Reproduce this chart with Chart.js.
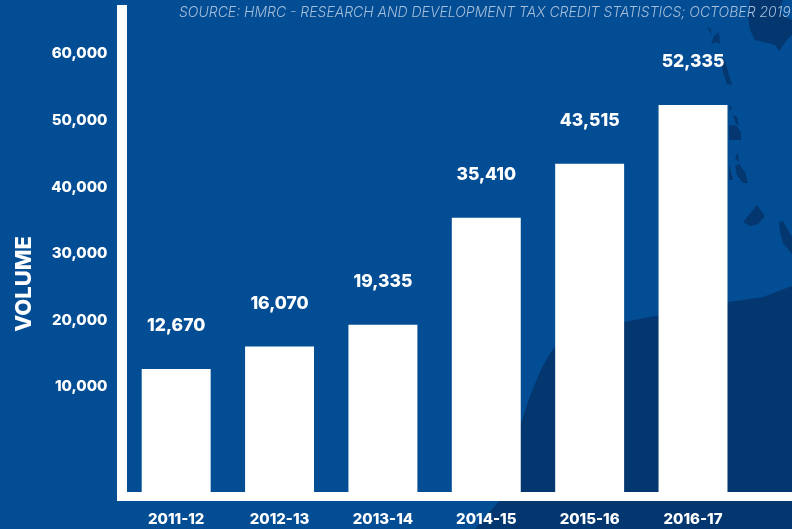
<!DOCTYPE html>
<html>
<head>
<meta charset="utf-8">
<title>R&amp;D tax credit claims</title>
<script src="https://cdn.jsdelivr.net/npm/chart.js@4/dist/chart.umd.min.js"></script>
<style>
    html, body { margin: 0; padding: 0; background: #034d94; overflow: hidden; }
    #wrap { position: relative; width: 792px; height: 529px; overflow: hidden; }
    #map { position: absolute; left: 0; top: 0; }
    #volumeChart { position: absolute; left: 0; top: 0; }
    #source {
        position: absolute; left: 179px; top: 3px; white-space: nowrap;
        font: italic 300 14px "Inter", sans-serif; color: #a6bfda;
    }
</style>
</head>
<body>
<div id="wrap">
    <!-- landmass backdrop -->
    <svg id="map" width="792" height="529" viewBox="0 0 792 529">
        <g fill="#04376f">
            <path d="M475 529 L499 501 L512 462 L520 427 C530 395 542 362 555 347 C575 330 600 326 624 322 L660 315 L729 302 L763 297 L792 286 L792 529 Z"/>
            <path d="M750 0 L748 17 L750 30 L755 40 L767 43 L775 45 L779 51 L787 40 L792 35 L792 20 L783 16 L780 7 L783 0 Z"/>
            <path d="M707 27 L710 28 L712 35 Z"/>
            <path d="M711 44 L714 36 L719 32 L720 44 L716 42 Z"/>
            <path d="M720 57 L725 60 L729 75 L732 85 L727 84 L723 72 Z"/>
            <path d="M729 105 L732 108 L730 112 Z"/>
            <path d="M733 115 L737 117 L739 125 L736 124 Z"/>
            <path d="M729 125 L737 126 L741 133 L741 140 L729 140 Z"/>
            <path d="M738 152 L739 163 L735 158 Z"/>
            <path d="M735 166 L739 164 L745 172 L748 183 L743 183 L737 175 Z"/>
            <path d="M729 165 L733 180 L729 180 Z"/>
            <path d="M757 205 L765 216 L758 224 L750 226 L743 222 Z"/>
            <path d="M779 222 L783 221 L792 237 L792 254 L783 243 L780 232 Z"/>
        </g>
    </svg>
    <canvas id="volumeChart" width="792" height="529"></canvas>
    <div id="source">SOURCE: HMRC - RESEARCH AND DEVELOPMENT TAX CREDIT STATISTICS; OCTOBER 2019</div>
</div>
<script>
const years = ["2011-12", "2012-13", "2013-14", "2014-15", "2015-16", "2016-17"];
const volumes = [12670, 16070, 19335, 35410, 43515, 52335];
const yTickValues = [10000, 20000, 30000, 40000, 50000, 60000];
const yAxisTitle = 'VOLUME';
const yMin = -5780;
const yMax = 67340;

const fontFamily = '"Inter", sans-serif';

// thick white axis lines, the vertical one runs right up the chart
const axisFrame = {
    id: 'axisFrame',
    beforeDatasetsDraw(chart) {
        const { ctx, chartArea } = chart;
        ctx.save();
        ctx.fillStyle = '#ffffff';
        ctx.fillRect(117, chartArea.top, 10, 501 - chartArea.top);
        ctx.fillRect(117, chartArea.bottom, 792 - 117, 9);
        ctx.restore();
    }
};

// value sits a fixed distance above each bar, axis title sits low on the left
const barValues = {
    id: 'barValues',
    afterDatasetsDraw(chart) {
        const { ctx } = chart;
        const bars = chart.getDatasetMeta(0).data;
        ctx.save();
        ctx.font = '800 17.5px ' + fontFamily;
        ctx.fillStyle = '#ffffff';
        ctx.textAlign = 'center';
        ctx.textBaseline = 'middle';
        bars.forEach((bar, i) => {
            ctx.fillText(volumes[i].toLocaleString('en-US'), bar.x, bar.y - 43);
        });
        ctx.translate(24, 284);
        ctx.rotate(-Math.PI / 2);
        ctx.font = '800 22px ' + fontFamily;
        ctx.fillText(yAxisTitle, 0, 0);
        ctx.restore();
    }
};

new Chart(document.getElementById('volumeChart').getContext('2d'), {
    type: 'bar',
    data: {
        labels: years,
        datasets: [{
            data: volumes,
            base: yMin,
            backgroundColor: '#ffffff',
            barPercentage: 0.667,
            categoryPercentage: 1
        }]
    },
    options: {
        responsive: false,
        animation: false,
        layout: { padding: { top: 5, right: 47.3, left: 0, bottom: 0 } },
        plugins: { legend: { display: false }, tooltip: { enabled: false } },
        scales: {
            x: {
                grid: { display: false, drawTicks: false },
                border: { display: false },
                ticks: {
                    color: '#ffffff', padding: 18, maxRotation: 0, autoSkip: false,
                    font: { family: fontFamily, size: 15, weight: '800' }
                },
                afterFit(scale) { scale.height = 37; }
            },
            y: {
                min: yMin,
                max: yMax,
                grid: { display: false, drawTicks: false },
                border: { display: false },
                ticks: {
                    color: '#ffffff', padding: 17,
                    font: { family: fontFamily, size: 15, weight: '800' },
                    callback: (value) => value.toLocaleString('en-US')
                },
                afterBuildTicks(scale) {
                    scale.ticks = yTickValues.map((value) => ({ value }));
                },
                afterFit(scale) {
                    scale.width = 124.5;
                    scale.paddingTop = 0;
                    scale.paddingBottom = 0;
                }
            }
        }
    },
    plugins: [axisFrame, barValues]
});
</script>
</body>
</html>
